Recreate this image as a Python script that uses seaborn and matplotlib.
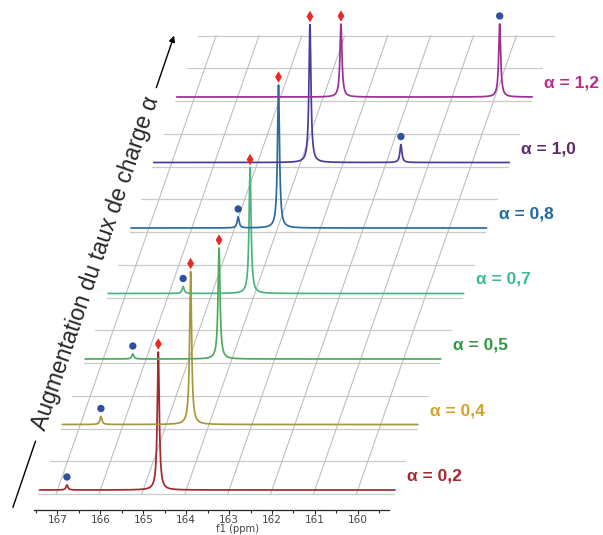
import numpy as np
import pandas as pd
import seaborn as sns
import matplotlib.pyplot as plt
from matplotlib.ticker import FixedLocator

sns.set_style("white")
plt.rcParams['font.family'] = ['Liberation Sans', 'DejaVu Sans']

# one spectrum per charge rate
alphas = ["0,2", "0,4", "0,5", "0,7", "0,8", "1,0", "1,2"]
line_colors = ["#a3282e", "#a89638", "#4daa5c", "#4bb37e", "#2b6a9c", "#4a3c9c", "#9a3090"]
label_colors = ["#a8262c", "#d4a22a", "#2e9b3f", "#3dbb8c", "#1e6a9c", "#5a2a6e", "#c02a8e"]

# peaks (ppm, height in px above baseline)
diamond_ppm = [164.65, 164.43, 164.30, 164.11, 163.98, 163.78, 163.59]
diamond_height = [138, 153, 111, 126, 143, 138, 73]
dot_ppm = [166.78, 166.52, 166.31, 165.67, 164.92, 161.66, 159.89]
dot_height = [5, 8, 5, 7, 11, 18, 73]

ppm_tick_labels = [167, 166, 165, 164, 163, 162, 161, 160]
ppm_start, ppm_end = 167.42, 159.13

# pseudo-3D stacking
SHIFT = 0.533   # ppm shift to the right per spectrum
STEP = 65.5     # vertical step per spectrum
BASE = 20
WIDTH = 0.028   # lorentzian half width (ppm)


def project(ppm, level, inten=0.0):
    ppm, level, inten = np.broadcast_arrays(np.asarray(ppm, float), np.asarray(level, float),
                                            np.asarray(inten, float))
    return ppm - level * SHIFT, BASE + level * STEP + inten


fig = plt.figure(figsize=(6.03, 5.35), dpi=100)
ax = fig.add_axes([0, 0, 1, 1])
ax.set_xlim(168.340, 154.284)
ax.set_ylim(-25, 510)

# grid: horizontal lines and slanted ppm lines
for k in range(15):
    lev = k / 2 - 4 / STEP
    gx, gy = project([ppm_start, ppm_end], lev)
    ax.plot(gx, gy, color="#cacaca", lw=0.9, zorder=0)
for p in ppm_tick_labels:
    gx, gy = project(p, [-4 / STEP, 7 - 4 / STEP])
    ax.plot(gx, gy, color="#c0c0c0", lw=0.8, zorder=0)

# spectra
ppm = np.arange(ppm_start, ppm_end, -0.002)
frames = []
for i, a in enumerate(alphas):
    inten = (diamond_height[i] * WIDTH**2 / ((ppm - diamond_ppm[i])**2 + WIDTH**2)
             + dot_height[i] * WIDTH**2 / ((ppm - dot_ppm[i])**2 + WIDTH**2))
    x, y = project(ppm, i, inten)
    frames.append(pd.DataFrame({"x": x, "y": y, "alpha": a}))
spectra = pd.concat(frames, ignore_index=True)

sns.lineplot(data=spectra, x="x", y="y", hue="alpha", hue_order=alphas,
             palette=line_colors, sort=False, estimator=None, legend=False,
             lw=1.25, ax=ax, zorder=2)

# peak markers
lv = np.arange(len(alphas))
dx, dy = project(diamond_ppm, lv, np.array(diamond_height) + 8)
sns.scatterplot(x=dx, y=dy, marker="d", color="#e8282a", s=34, edgecolor="none", ax=ax, zorder=3)
cx, cy = project(dot_ppm, lv, np.array(dot_height) + 8)
sns.scatterplot(x=cx, y=cy, marker="o", color="#2f4f9f", s=28, edgecolor="none", ax=ax, zorder=3)

# alpha labels
for i, a in enumerate(alphas):
    lx, ly = project(ppm_end - 0.28, i, 14)
    ax.text(float(lx), float(ly), "α = " + a, color=label_colors[i], fontsize=12.5,
            fontweight="bold", ha="left", va="center")

# bottom ppm axis
sns.despine(ax=ax, left=True)
ax.spines["bottom"].set_position(("data", 0))
ax.spines["bottom"].set_bounds(167.54, 159.27)
ax.spines["bottom"].set_linewidth(0.9)
ax.set_yticks([])
ax.set_xticks(ppm_tick_labels)
ax.xaxis.set_minor_locator(FixedLocator(np.arange(159.5, 167.6, 0.5)))
ax.tick_params(axis="x", which="major", length=3, width=0.8, pad=0.8,
               labelsize=7.6, labelcolor="#444444", bottom=True)
ax.tick_params(axis="x", which="minor", length=2, width=0.8, bottom=True)
for lab in ax.get_xticklabels():
    lab.set_fontfamily("DejaVu Sans")
ax.set_xlabel("")
ax.set_ylabel("")
fig.text(237 / 603, 0.5 / 535, "f1 (ppm)", fontsize=7.2, color="#444444",
         family="DejaVu Sans", ha="center", va="bottom")

# arrow with rotated title
p0 = np.array([12, 535 - 510])
p1 = np.array([175, 535 - 33])
ang = np.degrees(np.arctan2(p1[1] - p0[1], p1[0] - p0[0]))
ax.annotate("", xy=p0 + 0.15 * (p1 - p0), xytext=p0, xycoords="figure pixels",
            textcoords="figure pixels", arrowprops=dict(arrowstyle="-", lw=1.0, color="black"))
ax.annotate("", xy=p1, xytext=p0 + 0.88 * (p1 - p0), xycoords="figure pixels",
            textcoords="figure pixels",
            arrowprops=dict(arrowstyle="-|>", lw=1.0, color="black", mutation_scale=9))
mid = p0 + 0.517 * (p1 - p0)
fig.text(mid[0] / 603, mid[1] / 535, "Augmentation du taux de charge α", fontsize=16.5,
         rotation=ang, rotation_mode="anchor", ha="center", va="center")

fig.savefig("out.png", dpi=100)
